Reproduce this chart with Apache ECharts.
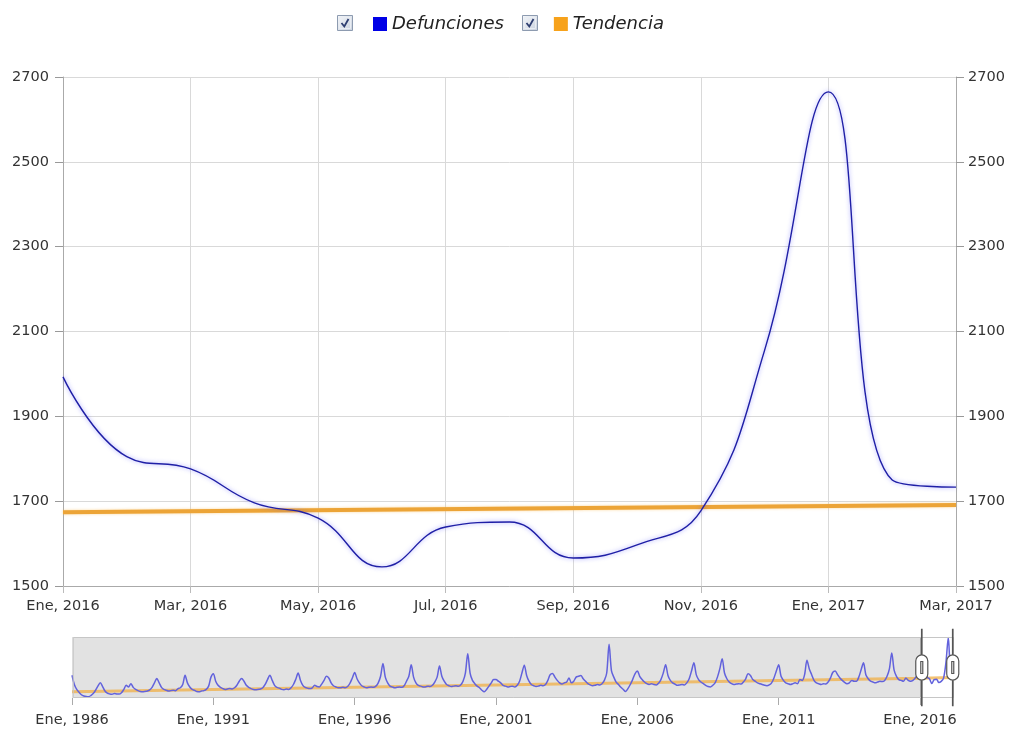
<!DOCTYPE html>
<html><head><meta charset="utf-8">
<script src="https://cdn.jsdelivr.net/npm/echarts@6/dist/echarts.min.js"></script>
<style>html,body{margin:0;padding:0;background:#fff}#c{width:1011px;height:729px}</style>
</head><body><div id="c"></div>
<script>
// ---- data ----
const monthNames = ['Ene','Feb','Mar','Abr','May','Jun','Jul','Ago','Sep','Oct','Nov','Dic'];
const firstYear = 1986, lastYear = 2017, lastMonthOfLastYear = 2; // Mar 2017

const d1986_1990 = [
  1745,1520,1400,1330,1270,1240,1225,1220,1250,1300,1380,1480,
  1560,1470,1360,1310,1290,1280,1300,1290,1285,1320,1400,1500,
  1460,1540,1450,1400,1370,1350,1340,1350,1360,1390,1450,1560,
  1665,1560,1450,1400,1380,1360,1370,1380,1370,1420,1440,1520,
  1745,1560,1460,1400,1380,1350,1340,1360,1370,1400,1480,1700
];
const d1991_1995 = [
  1785,1600,1500,1450,1420,1400,1410,1420,1410,1440,1500,1600,
  1665,1600,1500,1450,1420,1400,1390,1400,1410,1440,1520,1640,
  1745,1620,1500,1450,1430,1400,1390,1410,1400,1440,1520,1650,
  1800,1620,1500,1450,1430,1420,1440,1500,1470,1460,1530,1620,
  1720,1680,1560,1490,1460,1440,1440,1450,1440,1470,1550,1680
];
const d1996_2000 = [
  1810,1660,1560,1490,1460,1440,1450,1460,1450,1480,1560,1720,
  2030,1700,1560,1480,1460,1440,1450,1460,1450,1490,1600,1720,
  2000,1700,1560,1500,1480,1460,1460,1480,1470,1500,1580,1700,
  1970,1720,1600,1520,1490,1470,1480,1490,1480,1510,1600,1800,
  2270,1800,1620,1540,1480,1440,1380,1340,1400,1480,1560,1640
];
const d2001_2005 = [
  1640,1600,1560,1500,1480,1460,1470,1480,1460,1500,1600,1800,
  1990,1740,1600,1520,1490,1470,1480,1500,1490,1520,1620,1760,
  1790,1700,1620,1560,1530,1560,1580,1680,1560,1600,1700,1720,
  1740,1660,1600,1540,1510,1490,1500,1520,1510,1540,1620,1800,
  2500,1860,1700,1580,1520,1450,1400,1350,1420,1520,1640,1780
];
const d2006_2010 = [
  1850,1720,1640,1580,1540,1520,1540,1520,1510,1550,1640,1800,
  2000,1740,1620,1560,1530,1500,1510,1520,1510,1560,1660,1850,
  2050,1760,1640,1580,1540,1500,1470,1460,1500,1560,1700,1900,
  2150,1800,1660,1580,1540,1520,1530,1540,1530,1580,1660,1780,
  1740,1640,1600,1560,1540,1520,1500,1490,1510,1560,1680,1850
];
const d2011_2015 = [
  2000,1720,1620,1560,1540,1520,1540,1560,1540,1640,1620,1760,
  2110,1900,1760,1620,1560,1540,1520,1540,1530,1580,1680,1820,
  1850,1760,1680,1620,1570,1540,1560,1620,1600,1600,1700,1880,
  2050,1760,1660,1600,1580,1560,1580,1600,1590,1620,1720,1900,
  2290,1870,1720,1640,1620,1600,1680,1620,1600,1620,1680,1760
];
const d2016_2017 = [
  1993,1805,1776,1696,1660,1545,1639,1651,1566,1597,1677,2056,
  2665,1750,1733
];

const trendAt = ['Ene, 1986', 'Ene, 2016', 'Mar, 2017'];
const trendValues = [1340, 1674, 1691];

const zoomStart = 'Ene, 2016', zoomEnd = 'Mar, 2017';
const yMin = 1500, yMax = 2700, yStep = 200;

// ---- build ----
const categories = [];
for (let y = firstYear; y <= lastYear; y++) {
  for (let m = 0; m < 12; m++) {
    if (y === lastYear && m > lastMonthOfLastYear) break;
    categories.push(monthNames[m] + ', ' + y);
  }
}
const defunciones = [].concat(d1986_1990, d1991_1995, d1996_2000, d2001_2005, d2006_2010, d2011_2015, d2016_2017);
const tendencia = categories.map(c => { const i = trendAt.indexOf(c); return i >= 0 ? trendValues[i] : null; });

const font = 'DejaVu Sans';
const lbl = { fontFamily: font, fontSize: 14.5, color: '#333' };
const gridCol = '#d9d9d9';
const plain = v => String(v);

const handleIcon = 'path://M-0.25,-38 L0.25,-38 L0.25,-12.5 L-0.25,-12.5 Z ' +
  'M-0.25,12.5 L0.25,12.5 L0.25,38 L-0.25,38 Z ' +
  'M-6,-6.5 A6,6 0 0 1 6,-6.5 L6,6.5 A6,6 0 0 1 -6,6.5 Z ' +
  'M-1,-6 L1,-6 L1,6 L-1,6 Z';

const chart = echarts.init(document.getElementById('c'), null, { renderer: 'canvas' });
const checkbox = (x) => ({
  type: 'group', left: x, top: 15, children: [
    { type: 'rect', shape: { x: 0, y: 0, width: 15, height: 15 },
      style: { fill: new echarts.graphic.LinearGradient(0, 0, 1, 1, [{ offset: 0, color: '#f6f8fb' }, { offset: 1, color: '#c8d0dd' }]), stroke: '#8d9bb0', lineWidth: 1 } },
    { type: 'rect', shape: { x: 2, y: 2, width: 11, height: 11 }, style: { fill: 'none', stroke: '#e9edf3', lineWidth: 1 } },
    { type: 'polyline', shape: { points: [[4, 7.5], [6.8, 11], [11, 3.5]] }, style: { stroke: '#2e3e70', lineWidth: 1.8, fill: null } }
  ]
});

chart.setOption({
  animation: false,
  backgroundColor: '#fff',
  graphic: [checkbox(337), checkbox(522)],
  legend: {
    left: 368, top: 10, itemWidth: 14, itemHeight: 14, itemGap: 50, itemTextGap: 8, icon: 'rect',
    selectedMode: true,
    textStyle: { fontFamily: font, fontSize: 18, fontStyle: 'italic', color: '#222' },
    data: [
      { name: 'Defunciones', itemStyle: { color: '#0000e6', borderWidth: 0 } },
      { name: 'Tendencia', itemStyle: { color: '#f7a21b', borderWidth: 0 } }
    ]
  },
  grid: [
    { left: 63, right: 55, top: 77, height: 509 },
    { left: 72, right: 58, top: 637, height: 61 }
  ],
  xAxis: [
    { type: 'category', gridIndex: 0, data: categories, boundaryGap: false,
      axisLine: { lineStyle: { color: '#aaa' } },
      axisTick: { show: true, interval: 1, length: 7, lineStyle: { color: '#bbb' } },
      axisLabel: Object.assign({ interval: 1, margin: 13 }, lbl),
      splitLine: { show: true, interval: 1, lineStyle: { color: gridCol } } },
    { type: 'category', gridIndex: 1, data: categories, boundaryGap: false,
      axisLine: { show: false },
      axisTick: { show: true, interval: 59, length: 7, lineStyle: { color: '#aaa' } },
      axisLabel: Object.assign({ interval: 59, margin: 15 }, lbl),
      splitLine: { show: true, interval: 59, lineStyle: { color: '#aaa' } } }
  ],
  yAxis: [
    { type: 'value', gridIndex: 0, position: 'left', min: yMin, max: yMax, interval: yStep,
      axisLine: { show: true, lineStyle: { color: '#aaa' } },
      axisTick: { show: true, length: 8, lineStyle: { color: '#999' } },
      axisLabel: Object.assign({ margin: 14, formatter: plain }, lbl),
      splitLine: { show: true, lineStyle: { color: gridCol } } },
    { type: 'value', gridIndex: 0, position: 'right', min: yMin, max: yMax, interval: yStep,
      axisLine: { show: true, lineStyle: { color: '#aaa' } },
      axisTick: { show: true, length: 8, lineStyle: { color: '#999' } },
      axisLabel: Object.assign({ margin: 12, formatter: plain }, lbl),
      splitLine: { show: false } },
    { type: 'value', gridIndex: 1, min: 1190, max: 2680, show: false }
  ],
  dataZoom: [{
    type: 'slider', xAxisIndex: 0, left: 72, right: 58, top: 637, height: 61,
    startValue: categories.indexOf(zoomStart), endValue: categories.indexOf(zoomEnd),
    filterMode: 'filter', showDataShadow: false, showDetail: false, brushSelect: false,
    moveHandleSize: 0, backgroundColor: 'rgba(0,0,0,0)', fillerColor: 'rgba(0,0,0,0)',
    borderColor: '#c6c6c6', borderRadius: 0,
    handleIcon: handleIcon, handleSize: '125%',
    handleStyle: { color: '#fff', borderColor: '#555', borderWidth: 1.2 },
    emphasis: { handleStyle: { color: '#fff', borderColor: '#555', borderWidth: 1.2 } }
  }],
  series: [
    { name: 'Defunciones', type: 'line', xAxisIndex: 0, yAxisIndex: 0, data: defunciones,
      smooth: 0.45, showSymbol: false, z: 4,
      itemStyle: { color: '#0000e6' },
      lineStyle: { color: '#1f1fa6', width: 1.4, shadowColor: 'rgba(70,70,255,0.55)', shadowBlur: 4 } },
    { name: 'Tendencia', type: 'line', xAxisIndex: 0, yAxisIndex: 0, data: tendencia,
      connectNulls: true, showSymbol: false, z: 3,
      itemStyle: { color: '#f7a21b' },
      lineStyle: { color: '#eca437', width: 4, shadowColor: 'rgba(250,190,90,0.6)', shadowBlur: 3 } },
    { name: 'fondo', type: 'line', xAxisIndex: 1, yAxisIndex: 2, data: defunciones,
      showSymbol: false, silent: true, z: 1, lineStyle: { opacity: 0 },
      markArea: { silent: true, itemStyle: { color: '#e2e2e2' },
        data: [[{ xAxis: categories[0] }, { xAxis: zoomStart }]] } },
    { name: 'Defunciones', type: 'line', xAxisIndex: 1, yAxisIndex: 2, data: defunciones,
      smooth: 0.3, showSymbol: false, silent: true, z: 3,
      lineStyle: { color: '#6262dc', width: 1.5 } },
    { name: 'Tendencia', type: 'line', xAxisIndex: 1, yAxisIndex: 2, data: tendencia,
      connectNulls: true, showSymbol: false, silent: true, z: 2,
      lineStyle: { color: 'rgba(240,175,70,0.75)', width: 3 } }
  ]
});
</script></body></html>
